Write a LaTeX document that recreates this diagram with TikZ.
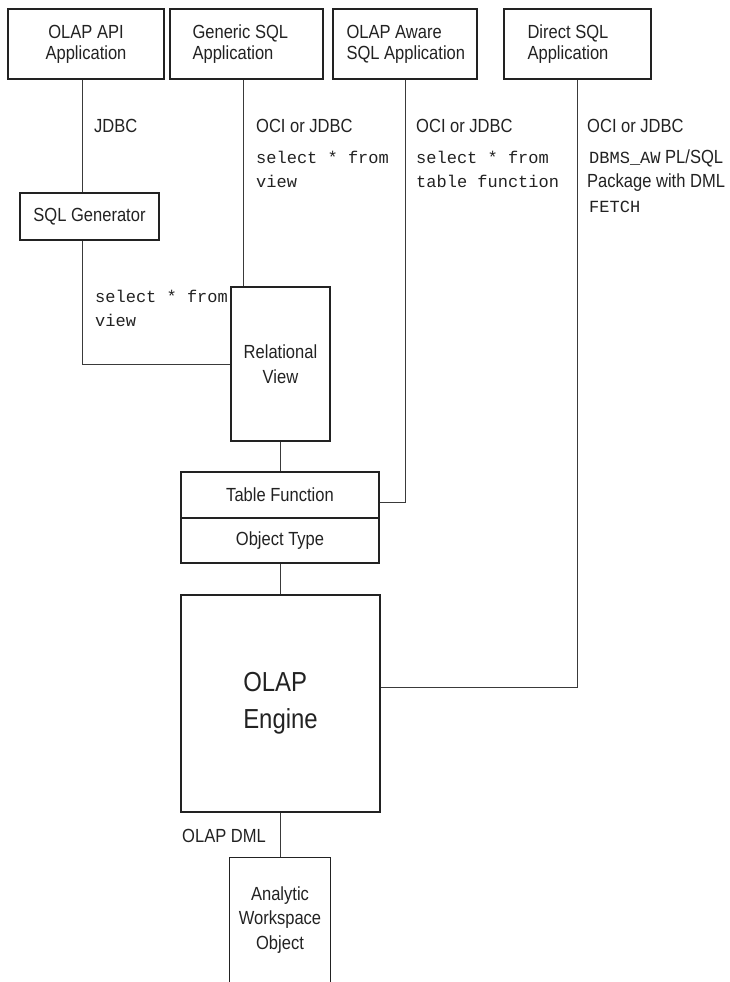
\documentclass[tikz,border=0pt]{standalone}
\usepackage{fontspec}
\setmainfont{Liberation Sans}[FakeStretch=0.87]
\setmonofont{Liberation Mono}
\definecolor{ink}{HTML}{222222}
\definecolor{wire}{HTML}{3A3A3A}
\newcommand{\cd}[1]{{\fontsize{17}{24.5}\selectfont\ttfamily #1}}
\begin{document}
\begin{tikzpicture}[x=1pt,y=-1pt,
  boxline/.style={draw=ink, line width=1.3pt},
  box/.style={boxline, inner sep=0pt, text=ink, align=center, font=\fontsize{19}{24.5}\selectfont},
  topbox/.style={box, minimum height=70, font=\fontsize{19}{21}\selectfont},
  toptext/.style={inner sep=0pt, anchor=west, text=ink, align=left, font=\fontsize{19}{21}\selectfont},
  wirel/.style={draw=wire, line width=1pt},
  lbl/.style={inner sep=0pt, anchor=base west, text=ink, font=\fontsize{19}{24.5}\selectfont},
  code/.style={inner sep=0pt, anchor=base west, text=ink, font=\fontsize{17}{24.5}\selectfont\ttfamily}]

\useasboundingbox (0,0) rectangle (730,982);

% top application boxes
\node[topbox, minimum width=156] (b1) at (86,44) {OLAP API\\Application};
\node[topbox, minimum width=153] (b2) at (246.5,44) {};
\node[toptext] (t2) at ([xshift=23]b2.west) {Generic SQL\\Application};
\node[topbox, minimum width=144] (b3) at (405,44) {};
\node[toptext] (t3) at ([xshift=14]b3.west) {OLAP Aware\\SQL Application};
\node[topbox, minimum width=147] (b4) at (577.5,44) {};
\node[toptext] (t4) at ([xshift=24]b4.west) {Direct SQL\\Application};

% middle boxes
\node[box, minimum width=139, minimum height=47] (sg) at (89.5,216.5) {SQL Generator};
\node[box, minimum width=99, minimum height=154] (rv) at (280.5,364) {Relational\\View};
\node[box, minimum width=198, minimum height=46] (tf) at (280,495) {Table Function};
\node[box, minimum width=198, minimum height=45] (ot) at (280,540.5) {Object Type};
\node[box, align=left, minimum width=199, minimum height=217,
      font=\fontsize{27.5}{37}\selectfont] (eng) at (280.5,703.5) {OLAP\\Engine};
\node[box, draw=none, minimum width=100, minimum height=124] (awo) at (280,920) {Analytic\\Workspace\\Object};
\draw[boxline] (awo.south west) -- (awo.north west) -- (awo.north east) -- (awo.south east);

% connectors
\draw[wirel] ([xshift=-4]b1.south) -- ([xshift=-4]b1.south |- sg.north);
\draw[wirel] ([xshift=-7.5]sg.south) |- (rv.west);
\draw[wirel] ([xshift=-3.5]b2.south) -- ([xshift=-3.5]b2.south |- rv.north);
\draw[wirel] (rv.south) -- (rv.south |- tf.north);
\draw[wirel] (b3.south) |- ([yshift=-7]tf.east);
\draw[wirel] (ot.south) -- (ot.south |- eng.north);
\draw[wirel] (b4.south) |- ([yshift=16.5]eng.east);
\draw[wirel] (eng.south) -- (eng.south |- awo.north);

% labels
\node[lbl] (l1) at (94,132) {JDBC};
\node[lbl] (l2) at (256,132) {OCI or JDBC};
\node[code] (c2a) at (256,163) {select * from};
\node[code] (c2b) at (256,187.5) {view};
\node[lbl] (l3) at (416,132) {OCI or JDBC};
\node[code] (c3a) at (416,163) {select * from};
\node[code] (c3b) at (416,187.5) {table function};
\node[lbl] (l4) at (587,132) {OCI or JDBC};
\node[lbl] (l4a) at (589,163) {\cd{DBMS\_AW} PL/SQL};
\node[lbl] (l4b) at (587,187.5) {Package with DML};
\node[code] (l4c) at (589,212) {FETCH};
\node[code] (c5a) at (95,302) {select * from};
\node[code] (c5b) at (95,326.5) {view};
\node[lbl] (l6) at (182,842) {OLAP DML};
\end{tikzpicture}
\end{document}
